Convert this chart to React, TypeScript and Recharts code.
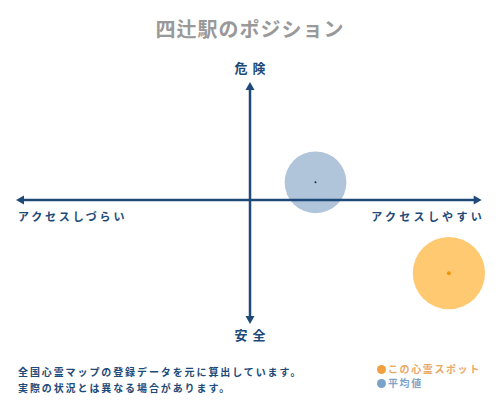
import React from 'react';
import { ScatterChart, Scatter, XAxis, YAxis, ZAxis, ReferenceLine } from 'recharts';

const titleText = '四辻駅のポジション';
const topLabel = '危険';
const bottomLabel = '安全';
const leftLabel = 'アクセスしづらい';
const rightLabel = 'アクセスしやすい';
const noteLines = ['全国心霊マップの登録データを元に算出しています。', '実際の状況とは異なる場合があります。'];
const legendNames = ['この心霊スポット', '平均値'];

const averagePoint = [{ x: 2.8, y: 1.5, z: 30 }];
const spotPoint = [{ x: 8.5, y: -6.2, z: 41 }];

const NAVY = '#1d4a78';
const JP = '"Noto Sans CJK JP", "Noto Sans", sans-serif';

const ArrowLine = (props: any) => {
  const { x1, y1, x2, y2 } = props;
  if ([x1, y1, x2, y2].some((v) => typeof v !== 'number' || isNaN(v))) return null;
  const dx = x2 - x1;
  const dy = y2 - y1;
  const len = Math.sqrt(dx * dx + dy * dy) || 1;
  const ux = dx / len;
  const uy = dy / len;
  const px = -uy;
  const py = ux;
  const L = 8;
  const W = 4.5;
  const head = (tx: number, ty: number, dirx: number, diry: number) => {
    const bx = tx - dirx * L;
    const by = ty - diry * L;
    return `${tx},${ty} ${bx + px * W},${by + py * W} ${bx - px * W},${by - py * W}`;
  };
  return (
    <g>
      <line x1={x1 + ux * 4} y1={y1 + uy * 4} x2={x2 - ux * 4} y2={y2 - uy * 4} stroke={NAVY} strokeWidth={2.5} />
      <polygon points={head(x1, y1, -ux, -uy)} fill={NAVY} />
      <polygon points={head(x2, y2, ux, uy)} fill={NAVY} />
    </g>
  );
};

const Bubble = (color: string, dot: string, dotR: number) => (props: any) => {
  const { cx, cy, size } = props;
  if (typeof cx !== 'number' || typeof cy !== 'number') return null;
  const r = Math.sqrt((size || 0) / Math.PI);
  return (
    <g>
      <circle cx={cx} cy={cy} r={r} fill={color} />
      <circle cx={cx} cy={cy} r={dotR} fill={dot} />
    </g>
  );
};

const textBase: React.CSSProperties = {
  position: 'absolute',
  fontFamily: JP,
  whiteSpace: 'nowrap',
  lineHeight: 1,
};

export default function App() {
  return (
    <div style={{ position: 'absolute', left: 0, top: 0, width: 500, height: 400, background: '#fff', overflow: 'hidden' }}>
      <ScatterChart width={500} height={400} margin={{ top: 82, right: 16, bottom: 82, left: 16 }}>
        <XAxis type="number" dataKey="x" domain={[-10, 10]} hide />
        <YAxis type="number" dataKey="y" domain={[-10, 10]} hide />
        <ZAxis type="number" dataKey="z" domain={[0, 100]} range={[0, 10000]} />
        <Scatter data={averagePoint} fill="#b0c4db" isAnimationActive={false} shape={Bubble('#b0c4da', '#1a2a3a', 1)} />
        <Scatter data={spotPoint} fill="#ffc96b" isAnimationActive={false} shape={Bubble('#fec971', '#f0950f', 2)} />
        <ReferenceLine
          segment={[{ x: -10, y: 0 }, { x: 9.9, y: 0 }]}
          ifOverflow="visible"
          shape={ArrowLine}
          {...({ zIndex: 1000 } as any)}
        />
        <ReferenceLine
          segment={[{ x: 0, y: 10 }, { x: 0, y: -10.5 }]}
          ifOverflow="visible"
          shape={ArrowLine}
          {...({ zIndex: 1000 } as any)}
        />
      </ScatterChart>

      <div style={{ ...textBase, left: 0, width: 500, top: 19, textAlign: 'center', fontSize: 20, color: '#999', fontWeight: 700, letterSpacing: 1 }}>
        {titleText}
      </div>
      <div style={{ ...textBase, left: 0, width: 500, top: 61, textAlign: 'center', fontSize: 13, color: NAVY, fontWeight: 700, letterSpacing: 5, paddingLeft: 5, boxSizing: 'border-box' }}>
        {topLabel}
      </div>
      <div style={{ ...textBase, left: 0, width: 500, top: 328, textAlign: 'center', fontSize: 13, color: NAVY, fontWeight: 700, letterSpacing: 5, paddingLeft: 5, boxSizing: 'border-box' }}>
        {bottomLabel}
      </div>
      <div style={{ ...textBase, left: 18, top: 211, fontSize: 11, color: NAVY, fontWeight: 700, letterSpacing: 2.8 }}>
        {leftLabel}
      </div>
      <div style={{ ...textBase, right: 15, top: 211, fontSize: 11, color: NAVY, fontWeight: 700, letterSpacing: 3.3 }}>
        {rightLabel}
      </div>
      <div style={{ ...textBase, left: 18, top: 364, fontSize: 10, color: NAVY, fontWeight: 700, letterSpacing: 1.9, lineHeight: '16px' }}>
        <div>{noteLines[0]}</div>
        <div>{noteLines[1]}</div>
      </div>
      <div style={{ ...textBase, left: 377, top: 362, fontSize: 10, fontWeight: 700, letterSpacing: 1.6, lineHeight: '14px' }}>
        <div style={{ color: '#e8a868', display: 'flex', alignItems: 'center' }}>
          <span style={{ display: 'inline-block', width: 9, height: 9, borderRadius: 5, background: '#f0a040', marginRight: 2 }} />
          {legendNames[0]}
        </div>
        <div style={{ color: '#7fa3c6', display: 'flex', alignItems: 'center' }}>
          <span style={{ display: 'inline-block', width: 9, height: 9, borderRadius: 5, background: '#7aa2c8', marginRight: 2 }} />
          {legendNames[1]}
        </div>
      </div>
    </div>
  );
}
